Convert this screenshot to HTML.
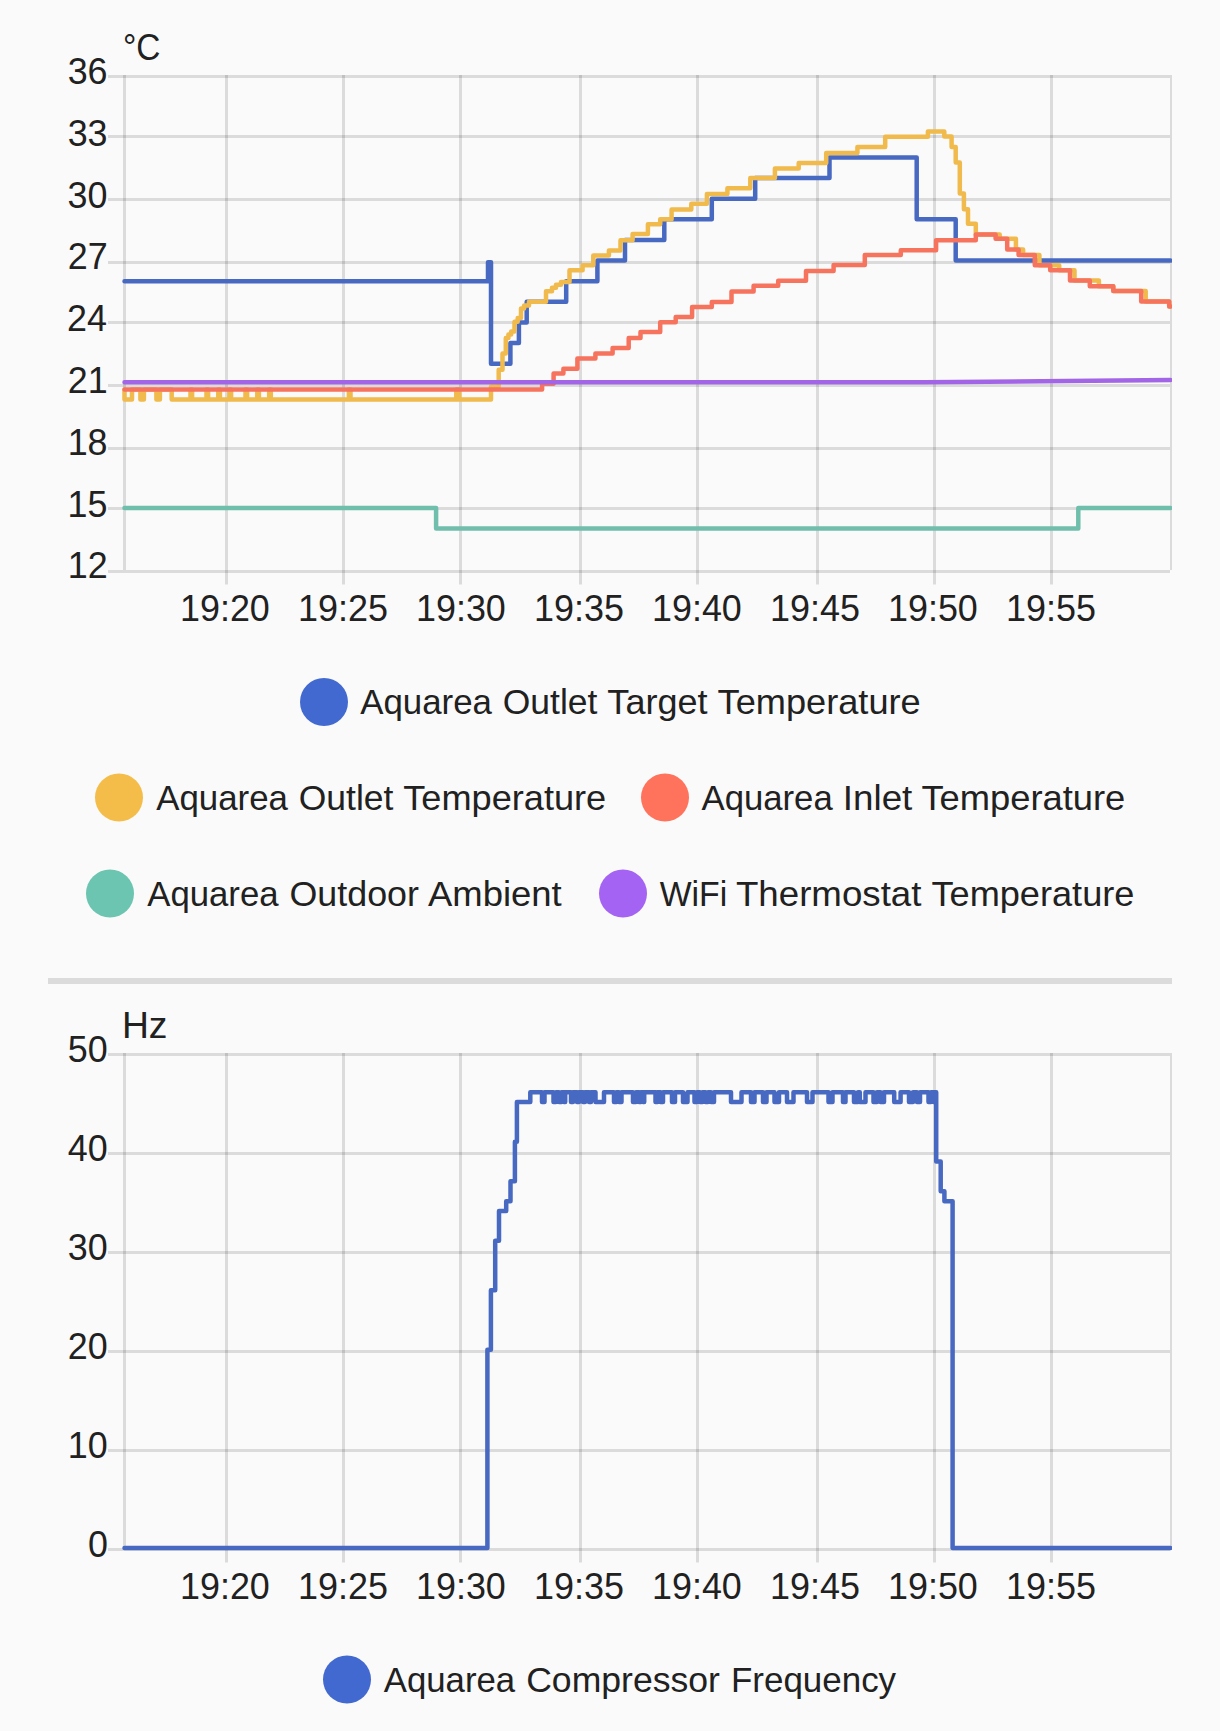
<!DOCTYPE html>
<html lang="en"><head><meta charset="utf-8"><title>History</title>
<style>
html,body{margin:0;padding:0;background:#fafafa;}
svg{display:block;font-family:"Liberation Sans",sans-serif;}
</style></head>
<body>
<svg width="1220" height="1731" viewBox="0 0 1220 1731">
<rect width="1220" height="1731" fill="#fafafa"/>
<g fill="rgba(0,0,0,0.12)">
<rect x="108" y="75" width="1062" height="3"/>
<rect x="108" y="135" width="1062" height="3"/>
<rect x="108" y="198" width="1062" height="3"/>
<rect x="108" y="261" width="1062" height="3"/>
<rect x="108" y="321" width="1062" height="3"/>
<rect x="108" y="384" width="1062" height="3"/>
<rect x="108" y="447" width="1062" height="3"/>
<rect x="108" y="507" width="1062" height="3"/>
<rect x="108" y="570" width="1062" height="3"/>
<rect x="123" y="75" width="3" height="495"/>
<rect x="1170" y="75" width="2" height="495"/>
<rect x="225" y="75" width="3" height="509.5"/>
<rect x="342" y="75" width="3" height="509.5"/>
<rect x="459" y="75" width="3" height="509.5"/>
<rect x="579" y="75" width="3" height="509.5"/>
<rect x="696" y="75" width="3" height="509.5"/>
<rect x="816" y="75" width="3" height="509.5"/>
<rect x="933" y="75" width="3" height="509.5"/>
<rect x="1050" y="75" width="3" height="509.5"/>
<rect x="108" y="1053" width="1062" height="3"/>
<rect x="108" y="1152" width="1062" height="3"/>
<rect x="108" y="1251" width="1062" height="3"/>
<rect x="108" y="1350" width="1062" height="3"/>
<rect x="108" y="1449" width="1062" height="3"/>
<rect x="108" y="1548" width="1062" height="3"/>
<rect x="123" y="1053" width="3" height="495"/>
<rect x="1170" y="1053" width="2" height="495"/>
<rect x="225" y="1053" width="3" height="509.5"/>
<rect x="342" y="1053" width="3" height="509.5"/>
<rect x="459" y="1053" width="3" height="509.5"/>
<rect x="579" y="1053" width="3" height="509.5"/>
<rect x="696" y="1053" width="3" height="509.5"/>
<rect x="816" y="1053" width="3" height="509.5"/>
<rect x="933" y="1053" width="3" height="509.5"/>
<rect x="1050" y="1053" width="3" height="509.5"/>
<rect x="48" y="978" width="1124" height="6"/>
</g>
<clipPath id="cl"><rect x="100" y="0" width="1072" height="1731"/></clipPath>
<g fill="none" stroke-width="4.5" stroke-linejoin="round" stroke-linecap="round" clip-path="url(#cl)">
<path stroke="#4869c2" d="M124.5,281.21999999999997H488V262.2H491V363.7H510.4V343.08H518.9V322.46H526.7V301.84H566.2V281.21999999999997H597.4V260.59999999999997H625V239.98H664.3V219.35999999999999H711.8V198.73999999999998H755.2V178.11999999999998H829.5V157.49999999999997H916.7V219.35999999999999H955.7V260.59999999999997H1170.5"/>
<path stroke="#f0bb4c" d="M124.5,389.5H124.5V399.5H132V389.5H140.4V399.5H143.9V389.5H156.4V399.5H159.9V389.5H171.7V399.5H190.5V389.5H192.10000000000002V399.5H206.5V389.5H208.10000000000002V399.5H218.29999999999998V389.5H219.9V399.5H229.5V389.5H231.10000000000002V399.5H245.5V389.5H247.10000000000002V399.5H257.3V389.5H258.90000000000003V399.5H269.2V389.5H270.8V399.5H348.9V389.5H350.5V399.5H456.3V389.5H459.2V399.5H491V386.4H498.7V369.8H502.5V353.5H505.8V338H508.4V334.6H511.2V331.4H514.5V321.7H517.7V318H521V308.5H524.1V305.5H529V301.8H546V291.3H552V287.7H556V284.7H561V282H569.5V270.2H582.6V265.2H593.3V255.4H608.9V250.5H620.5V240.3H632.6V234.1H647.9V224.3H660.2V219.3H671.6V209.5H691.3V203.8H706.9V193.9H727.4V188.2H750.3V178H774.9V168.5H798.7V162.9H826.2V153H857.4V146.9H885.2V136.7H927.9V131.6H944.3V136.6H951.6V146.9H955.7V162.5H959.8V193.6H963.9V209.2H968V223.7H975.8V234.5H999.7V238.8H1015.9V249.6H1023.1V255H1039.4V265.3H1059.2V270.3H1074.5V280.6H1098.9V286.2H1113.3V291.1H1145.7V301.5H1169.2V306.4H1170.5"/>
<path stroke="#f6735e" d="M124.5,389.5H542.1V383.8H553.6V373.6H563.4V368.7H577.4V358.4H595.4V353.4H612.6V348H628.7V337.9H640.5V332.1H660.2V322.3H675.7V316.9H692.1V307H711.8V302H731.5V291.5H753.6V285.7H778.2V280.8H806V270.9H833.6V264.9H864.8V255.1H900.8V250.2H936.1V240.3H975.8V234.5H995.6V238.8H1007.2V249.6H1018.6V255H1034.8V265.3H1050.2V270.3H1070V280.6H1089.8V286.2H1113.3V291.1H1141.2V301.5H1169.2V306.4H1170.5"/>
<path stroke="#70bfad" d="M124.5,508H436.1V528.6H1078.3V508H1170.5"/>
<path stroke="#a265e6" d="M124.5,382.3H925L1170.5,380"/>
<path stroke="#4869c2" d="M124.5,1548.0H487.4V1349.8H490.9V1290.34H495.2V1240.79H499V1211.06H506.2V1201.15H510.5V1181.33H514.9V1141.69H516.9V1102.05H530.3V1092.1399999999999H542V1102.05H544.5V1092.1399999999999H553.5V1102.05H556V1092.1399999999999H559V1102.05H561.5V1092.1399999999999H564V1102.05H565.2V1092.1399999999999H571V1102.05H573V1092.1399999999999H577V1102.05H579V1092.1399999999999H583V1102.05H585V1092.1399999999999H589V1102.05H591V1092.1399999999999H595.5V1102.05H604V1092.1399999999999H614V1102.05H616.5V1092.1399999999999H619V1102.05H621.5V1092.1399999999999H633V1102.05H636V1092.1399999999999H639V1102.05H641V1092.1399999999999H643V1102.05H644.2V1092.1399999999999H655.5V1102.05H657.5V1092.1399999999999H660.5V1102.05H663V1092.1399999999999H672V1102.05H675V1092.1399999999999H683V1102.05H687.5V1092.1399999999999H694.5V1102.05H697V1092.1399999999999H700V1102.05H702.5V1092.1399999999999H705.5V1102.05H708V1092.1399999999999H711V1102.05H714V1092.1399999999999H731V1102.05H741.5V1092.1399999999999H751V1102.05H754.5V1092.1399999999999H763V1102.05H766.5V1092.1399999999999H774.5V1102.05H779V1092.1399999999999H787V1102.05H793.5V1092.1399999999999H807V1102.05H812.5V1092.1399999999999H828.5V1102.05H832.5V1092.1399999999999H843V1102.05H845.5V1092.1399999999999H854V1102.05H858V1092.1399999999999H859.8V1102.05H865.5V1092.1399999999999H873.5V1102.05H877V1092.1399999999999H880.5V1102.05H884V1092.1399999999999H894.2V1102.05H900.6V1092.1399999999999H909V1102.05H913V1092.1399999999999H917V1102.05H920V1092.1399999999999H928.5V1102.05H931V1092.1399999999999H933.5V1102.05H935V1092.1399999999999H936.2V1161.51H940.7V1191.24H944.4V1201.15H952.6V1548.0H1170.5"/>
</g>
<circle cx="324" cy="702" r="24" fill="#4269d0"/>
<circle cx="119" cy="797.5" r="24" fill="#f4bd4a"/>
<circle cx="665" cy="797.5" r="24" fill="#ff725c"/>
<circle cx="110" cy="893.5" r="24" fill="#6cc5b0"/>
<circle cx="623" cy="893.5" r="24" fill="#a463f2"/>
<circle cx="347" cy="1679.5" r="24" fill="#4269d0"/>
<g fill="#212121">
<text x="67.68" y="84.00" font-size="37.2" textLength="39.91" lengthAdjust="spacingAndGlyphs">36</text>
<text x="67.68" y="145.80" font-size="37.2" textLength="39.91" lengthAdjust="spacingAndGlyphs">33</text>
<text x="67.47" y="207.60" font-size="37.2" textLength="39.91" lengthAdjust="spacingAndGlyphs">30</text>
<text x="67.85" y="269.40" font-size="37.2" textLength="39.91" lengthAdjust="spacingAndGlyphs">27</text>
<text x="67.09" y="331.20" font-size="37.2" textLength="39.91" lengthAdjust="spacingAndGlyphs">24</text>
<text x="67.81" y="393.00" font-size="37.2" textLength="39.91" lengthAdjust="spacingAndGlyphs">21</text>
<text x="67.67" y="454.80" font-size="37.2" textLength="39.91" lengthAdjust="spacingAndGlyphs">18</text>
<text x="67.62" y="516.60" font-size="37.2" textLength="39.91" lengthAdjust="spacingAndGlyphs">15</text>
<text x="67.85" y="578.40" font-size="37.2" textLength="39.91" lengthAdjust="spacingAndGlyphs">12</text>
<text x="67.77" y="1061.70" font-size="37.2" textLength="39.91" lengthAdjust="spacingAndGlyphs">50</text>
<text x="67.77" y="1160.80" font-size="37.2" textLength="39.91" lengthAdjust="spacingAndGlyphs">40</text>
<text x="67.77" y="1259.90" font-size="37.2" textLength="39.91" lengthAdjust="spacingAndGlyphs">30</text>
<text x="67.77" y="1359.00" font-size="37.2" textLength="39.91" lengthAdjust="spacingAndGlyphs">20</text>
<text x="67.77" y="1458.10" font-size="37.2" textLength="39.91" lengthAdjust="spacingAndGlyphs">10</text>
<text x="87.97" y="1557.20" font-size="37.2" textLength="19.95" lengthAdjust="spacingAndGlyphs">0</text>
<text x="180.00" y="620.80" font-size="37.2" textLength="89.82" lengthAdjust="spacingAndGlyphs">19:20</text>
<text x="180.00" y="1598.80" font-size="37.2" textLength="89.82" lengthAdjust="spacingAndGlyphs">19:20</text>
<text x="298.00" y="620.80" font-size="37.2" textLength="89.96" lengthAdjust="spacingAndGlyphs">19:25</text>
<text x="298.00" y="1598.80" font-size="37.2" textLength="89.96" lengthAdjust="spacingAndGlyphs">19:25</text>
<text x="416.00" y="620.80" font-size="37.2" textLength="89.82" lengthAdjust="spacingAndGlyphs">19:30</text>
<text x="416.00" y="1598.80" font-size="37.2" textLength="89.82" lengthAdjust="spacingAndGlyphs">19:30</text>
<text x="534.00" y="620.80" font-size="37.2" textLength="89.96" lengthAdjust="spacingAndGlyphs">19:35</text>
<text x="534.00" y="1598.80" font-size="37.2" textLength="89.96" lengthAdjust="spacingAndGlyphs">19:35</text>
<text x="652.00" y="620.80" font-size="37.2" textLength="89.82" lengthAdjust="spacingAndGlyphs">19:40</text>
<text x="652.00" y="1598.80" font-size="37.2" textLength="89.82" lengthAdjust="spacingAndGlyphs">19:40</text>
<text x="770.00" y="620.80" font-size="37.2" textLength="89.96" lengthAdjust="spacingAndGlyphs">19:45</text>
<text x="770.00" y="1598.80" font-size="37.2" textLength="89.96" lengthAdjust="spacingAndGlyphs">19:45</text>
<text x="888.00" y="620.80" font-size="37.2" textLength="89.82" lengthAdjust="spacingAndGlyphs">19:50</text>
<text x="888.00" y="1598.80" font-size="37.2" textLength="89.82" lengthAdjust="spacingAndGlyphs">19:50</text>
<text x="1006.00" y="620.80" font-size="37.2" textLength="89.96" lengthAdjust="spacingAndGlyphs">19:55</text>
<text x="1006.00" y="1598.80" font-size="37.2" textLength="89.96" lengthAdjust="spacingAndGlyphs">19:55</text>
<text x="122.91" y="59.70" font-size="37.2" textLength="37.49" lengthAdjust="spacingAndGlyphs">°C</text>
<text x="121.93" y="1038.00" font-size="37.2" textLength="45.55" lengthAdjust="spacingAndGlyphs">Hz</text>
<text y="713.80" font-size="35.4"><tspan x="360.22" textLength="131.67" lengthAdjust="spacingAndGlyphs">Aquarea</tspan> <tspan x="502.78" textLength="94.64" lengthAdjust="spacingAndGlyphs">Outlet</tspan> <tspan x="607.38" textLength="100.10" lengthAdjust="spacingAndGlyphs">Target</tspan> <tspan x="717.58" textLength="203.15" lengthAdjust="spacingAndGlyphs">Temperature</tspan></text>
<text y="809.90" font-size="35.4"><tspan x="156.22" textLength="131.67" lengthAdjust="spacingAndGlyphs">Aquarea</tspan> <tspan x="298.78" textLength="94.64" lengthAdjust="spacingAndGlyphs">Outlet</tspan> <tspan x="403.28" textLength="202.95" lengthAdjust="spacingAndGlyphs">Temperature</tspan></text>
<text y="809.90" font-size="35.4"><tspan x="701.52" textLength="131.22" lengthAdjust="spacingAndGlyphs">Aquarea</tspan> <tspan x="842.84" textLength="69.52" lengthAdjust="spacingAndGlyphs">Inlet</tspan> <tspan x="921.47" textLength="203.86" lengthAdjust="spacingAndGlyphs">Temperature</tspan></text>
<text y="906.30" font-size="35.4"><tspan x="147.22" textLength="131.32" lengthAdjust="spacingAndGlyphs">Aquarea</tspan> <tspan x="289.52" textLength="129.38" lengthAdjust="spacingAndGlyphs">Outdoor</tspan> <tspan x="427.96" textLength="133.73" lengthAdjust="spacingAndGlyphs">Ambient</tspan></text>
<text y="906.30" font-size="35.4"><tspan x="659.69" textLength="67.48" lengthAdjust="spacingAndGlyphs">WiFi</tspan> <tspan x="735.96" textLength="185.47" lengthAdjust="spacingAndGlyphs">Thermostat</tspan> <tspan x="931.48" textLength="202.95" lengthAdjust="spacingAndGlyphs">Temperature</tspan></text>
<text y="1692.30" font-size="35.4"><tspan x="383.72" textLength="131.42" lengthAdjust="spacingAndGlyphs">Aquarea</tspan> <tspan x="526.19" textLength="193.65" lengthAdjust="spacingAndGlyphs">Compressor</tspan> <tspan x="731.04" textLength="165.07" lengthAdjust="spacingAndGlyphs">Frequency</tspan></text>
</g>
</svg>
</body></html>
